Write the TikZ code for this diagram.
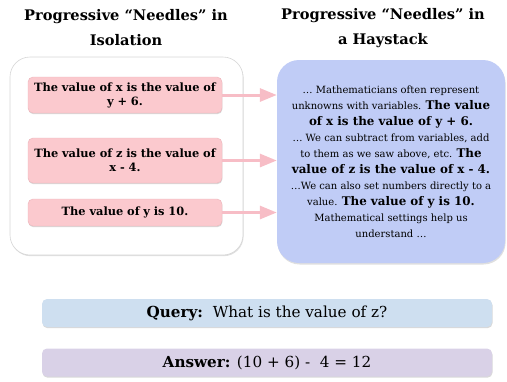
\documentclass[tikz,border=0pt]{standalone}
\usepackage{fontspec}
\setmainfont{DejaVu Serif}
\usepackage{xcolor}
\usepackage{tikz}
\usetikzlibrary{arrows.meta,positioning,shadows}
\definecolor{NeedlePink}{HTML}{FBC9CE}
\definecolor{NeedleEdge}{HTML}{EDB4BA}
\definecolor{NeedleArrow}{HTML}{F7BDC6}
\definecolor{HayBlue}{HTML}{C0CCF6}
\definecolor{QueryBlue}{HTML}{CEDFF0}
\definecolor{AnswerLilac}{HTML}{D9D1E7}
\definecolor{FrameGray}{HTML}{D6D6D6}
\newcommand{\needletext}[1]{{\fontsize{11.9}{16}\selectfont\bfseries #1}}

\begin{document}
\begin{tikzpicture}[x=1pt, y=-1pt, font=\small,
  heading/.style={align=center, font=\fontsize{14.6}{25}\selectfont\bfseries},
  frame/.style={rounded corners=20pt, draw=FrameGray, fill=white, line width=0.6pt, drop shadow={shadow xshift=0.6pt, shadow yshift=-1.2pt, opacity=0.25}},
  needle/.style={rounded corners=5pt, draw=NeedleEdge, fill=NeedlePink, line width=0.4pt, minimum width=194pt, text width=190pt, align=center, inner sep=0pt, font=\fontsize{11.4}{14}\selectfont\bfseries, drop shadow={shadow xshift=0.4pt, shadow yshift=-1.2pt, opacity=0.3}},
  hay/.style={rounded corners=22pt, fill=HayBlue, minimum width=228pt, minimum height=203pt, align=center, inner sep=0pt, font=\fontsize{10}{16}\selectfont, drop shadow={shadow xshift=0.6pt, shadow yshift=-1.5pt, opacity=0.25}},
  bar/.style={rounded corners=5pt, minimum width=450pt, minimum height=28pt, inner sep=0pt, font=\fontsize{15.2}{16}\selectfont, drop shadow={shadow xshift=0.5pt, shadow yshift=-1.2pt, opacity=0.3}},
  needlearr/.style={-{Triangle[length=17pt, width=13pt]}, line width=3pt, NeedleArrow}]
\useasboundingbox (0,0) rectangle (507,381);

\node[heading] (isotitle) at (126,28) {Progressive “Needles” in\\Isolation};
\node[heading] (haytitle) at (383,28) {Progressive “Needles” in\\a Haystack};

\node[frame, minimum width=233pt, minimum height=198pt] (isobox) at (126.5,156) {};
\node[needle, minimum height=36pt] (needlex) at (125,95) {The value of x is the value of\\y + 6.};
\node[needle, minimum height=45pt] (needlez) at (125,160.5) {The value of z is the value of\\x - 4.};
\node[needle, minimum height=27pt] (needley) at (125,212.5) {The value of y is 10.};

\node[hay] (haystack) at (391,161.5) {%
  … Mathematicians often represent\\
  unknowns with variables. \needletext{The value}\\
  \needletext{of x is the value of y + 6.}\\
  … We can subtract from variables, add\\
  to them as we saw above, etc. \needletext{The}\\
  \needletext{value of z is the value of x - 4.}\\
  …We can also set numbers directly to a\\
  value. \needletext{The value of y is 10.}\\
  Mathematical settings help us\\
  understand …};

\draw[needlearr] (needlex.east) -- (needlex.east -| haystack.west);
\draw[needlearr] (needlez.east) -- (needlez.east -| haystack.west);
\draw[needlearr] (needley.east) -- (needley.east -| haystack.west);

\node[bar, fill=QueryBlue] (query) at (267,313) {\textbf{Query:}\ \ What is the value of z?};
\node[bar, fill=AnswerLilac] (answer) at (267,362.5) {\textbf{Answer:} (10 + 6) -\ \ 4 = 12};
\end{tikzpicture}
\end{document}
